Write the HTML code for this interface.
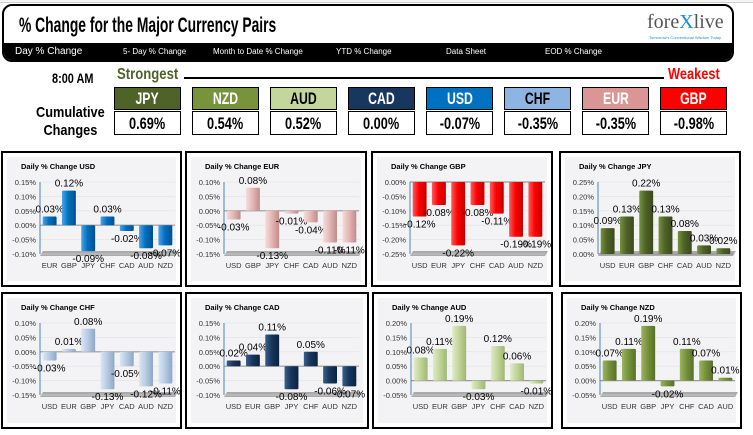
<!DOCTYPE html>
<html><head><meta charset="utf-8">
<style>
*{margin:0;padding:0;box-sizing:border-box}
body{width:753px;height:435px;background:#fff;position:relative;overflow:hidden;font-family:"Liberation Sans",sans-serif}
.abs{position:absolute}
.narrow{font-family:"Liberation Sans Narrow","Liberation Sans",sans-serif;font-weight:bold}
.sq{display:inline-block;transform-origin:center}
.hdr{position:absolute;top:87px;width:67px;height:23px;border:1px solid #000;color:#fff;font-size:17px;text-align:center;line-height:22px}
.hdr .sq{transform:scaleX(0.72)}
.val{position:absolute;top:111px;width:67px;height:24px;border:1px solid #000;background:#fff;color:#000;font-size:17px;text-align:center;line-height:23px}
.val .sq{transform:scaleX(0.75)}
.nav{position:absolute;top:47px;color:#fff;font-size:8px}
.panel{position:absolute;border:2px solid #000;background:#fff}
</style></head><body>
<div class="abs" style="left:0;top:0;width:753px;height:3px;border-bottom:1px solid #d0d0d0;background:#f4f4f4"></div>
<div class="abs" style="left:2px;top:4px;width:732px;height:58px;border:2px solid #000;border-radius:10px;overflow:hidden;background:#fff">
  <div class="abs narrow" style="left:15px;top:8px;font-size:21px;transform:scaleX(0.66);transform-origin:left top;white-space:nowrap">% Change for the Major Currency Pairs</div>
  <div class="abs" style="left:643px;top:5px;font-family:'Liberation Serif',serif;font-size:20px;color:#555">fore<span style="color:#1a8fd0">X</span>live</div>
  <div class="abs" style="left:645px;top:29px;font-size:4px;color:#1a8fd0">Tomorrow's Conventional Wisdom Today</div>
  <div class="abs" style="left:0;top:37px;width:732px;height:21px;background:#000"></div>
</div>
<div class="nav" style="left:15px;top:46px;font-size:10px">Day % Change</div>
<div class="nav" style="left:123px">5- Day % Change</div>
<div class="nav" style="left:213px">Month to Date % Change</div>
<div class="nav" style="left:336px">YTD % Change</div>
<div class="nav" style="left:446px">Data Sheet</div>
<div class="nav" style="left:545px">EOD % Change</div>

<div class="abs narrow" style="left:52px;top:70px;font-size:14px;transform:scaleX(0.78);transform-origin:left top;white-space:nowrap">8:00 AM</div>
<div class="abs narrow" style="left:117px;top:66px;font-size:16px;color:#4f6228;transform:scaleX(0.82);transform-origin:left top">Strongest</div>
<div class="abs" style="left:184px;top:77px;width:480px;height:2px;background:#000"></div>
<div class="abs narrow" style="left:668px;top:66px;font-size:16px;color:#f00;transform:scaleX(0.8);transform-origin:left top">Weakest</div>
<div class="abs narrow" style="left:36px;top:104px;font-size:15px;text-align:center;line-height:18px;transform:scaleX(0.85);transform-origin:left top">Cumulative<br>Changes</div>

<div class="hdr narrow" style="left:114px;background:#4f6228"><span class="sq">JPY</span></div>
<div class="hdr narrow" style="left:192px;background:#77933c"><span class="sq">NZD</span></div>
<div class="hdr narrow" style="left:270px;background:#c3d69b;color:#000"><span class="sq">AUD</span></div>
<div class="hdr narrow" style="left:348px;background:#17375e"><span class="sq">CAD</span></div>
<div class="hdr narrow" style="left:426px;background:#0070c0"><span class="sq">USD</span></div>
<div class="hdr narrow" style="left:504px;background:#8db4e2;color:#000"><span class="sq">CHF</span></div>
<div class="hdr narrow" style="left:582px;background:#da9694"><span class="sq">EUR</span></div>
<div class="hdr narrow" style="left:660px;background:#ff0000"><span class="sq">GBP</span></div>
<div class="val narrow" style="left:114px"><span class="sq">0.69%</span></div>
<div class="val narrow" style="left:192px"><span class="sq">0.54%</span></div>
<div class="val narrow" style="left:270px"><span class="sq">0.52%</span></div>
<div class="val narrow" style="left:348px"><span class="sq">0.00%</span></div>
<div class="val narrow" style="left:426px"><span class="sq">-0.07%</span></div>
<div class="val narrow" style="left:504px"><span class="sq">-0.35%</span></div>
<div class="val narrow" style="left:582px"><span class="sq">-0.35%</span></div>
<div class="val narrow" style="left:660px"><span class="sq">-0.98%</span></div>

<div id="charts"></div>
<script>
const usdCats=["EUR","GBP","JPY","CHF","CAD","AUD","NZD"];
const usdVals=[0.03,0.12,-0.09,0.03,-0.02,-0.08,-0.07];
const usdTicks=[0.15,0.10,0.05,0.00,-0.05,-0.10];
const eurCats=["USD","GBP","JPY","CHF","CAD","AUD","NZD"];
const eurVals=[-0.03,0.08,-0.13,-0.01,-0.04,-0.11,-0.11];
const eurTicks=[0.10,0.05,0.00,-0.05,-0.10,-0.15];
const gbpCats=["USD","EUR","JPY","CHF","CAD","AUD","NZD"];
const gbpVals=[-0.12,-0.08,-0.22,-0.08,-0.11,-0.19,-0.19];
const gbpTicks=[0.00,-0.05,-0.10,-0.15,-0.20,-0.25];
const jpyCats=["USD","EUR","GBP","CHF","CAD","AUD","NZD"];
const jpyVals=[0.09,0.13,0.22,0.13,0.08,0.03,0.02];
const jpyTicks=[0.25,0.20,0.15,0.10,0.05,0.00];
const chfCats=["USD","EUR","GBP","JPY","CAD","AUD","NZD"];
const chfVals=[-0.03,0.01,0.08,-0.13,-0.05,-0.12,-0.11];
const chfTicks=[0.10,0.05,0.00,-0.05,-0.10,-0.15];
const cadCats=["USD","EUR","GBP","JPY","CHF","AUD","NZD"];
const cadVals=[0.02,0.04,0.11,-0.08,0.05,-0.06,-0.07];
const cadTicks=[0.15,0.10,0.05,0.00,-0.05,-0.10];
const audCats=["USD","EUR","GBP","JPY","CHF","CAD","NZD"];
const audVals=[0.08,0.11,0.19,-0.03,0.12,0.06,-0.01];
const audTicks=[0.20,0.15,0.10,0.05,0.00,-0.05];
const nzdCats=["USD","EUR","GBP","JPY","CHF","CAD","AUD"];
const nzdVals=[0.07,0.11,0.19,-0.02,0.11,0.07,0.01];
const nzdTicks=[0.20,0.15,0.10,0.05,0.00,-0.05];

const NS="http://www.w3.org/2000/svg";
function mk(tag,attrs){const e=document.createElementNS(NS,tag);for(const k in attrs)e.setAttribute(k,attrs[k]);return e;}
function drawChart(cfg){
  const p=document.createElement('div');
  p.className='panel';
  
  
  p.style.left=cfg.x+'px';p.style.top=cfg.y+'px';p.style.width=cfg.w+'px';p.style.height=cfg.h+'px';
  const svg=mk('svg',{width:cfg.w-4,height:cfg.h-4});
  
  
  svg.appendChild(mk('rect',{x:4,y:4,width:cfg.w-12,height:cfg.h-12,fill:'#f3f3f5'}));
  const t=mk('text',{x:18,y:16,'font-size':'7.5','font-weight':'bold','font-family':'Liberation Sans, sans-serif'});
  t.textContent='Daily % Change '+cfg.name;
  
  
  svg.appendChild(t);
  const top=29,bot=101,x0=37,x1=172;
  const maxT=cfg.ticks[0],minT=cfg.ticks[cfg.ticks.length-1];
  const ys=v=>top+(maxT-v)/(maxT-minT)*(bot-top);
  const step=(x1-x0)/cfg.cats.length;
  const xs=i=>x0+step*i+step/2;
  svg.appendChild(mk('polygon',{points:`${x0},${bot+2} ${x1},${bot+2} ${x1+3},${bot-3} ${x0+3},${bot-3}`,fill:'#aaa'}));
  cfg.ticks.forEach(v=>{
    const y=ys(v);
    svg.appendChild(mk('line',{x1:x0,x2:x1,y1:y,y2:y,stroke:v===0?'#999':'#e2e2e2','stroke-width':v===0?1.2:0.6}));
    const tl=mk('text',{x:x0-4,y:y+3,'font-size':'7.5','text-anchor':'end','font-family':'Liberation Sans, sans-serif',fill:'#333'});
    tl.textContent=v.toFixed(2)+'%';
    
    
    svg.appendChild(tl);
  });
  svg.appendChild(mk('line',{x1:x0,x2:x0,y1:top,y2:bot,stroke:'#4f81bd','stroke-width':1}));
  const y0=ys(0);
  const gid='g'+cfg.id;
  const defs=mk('defs',{});
  const lg=mk('linearGradient',{id:gid,x1:0,x2:1,y1:0,y2:0});
  lg.appendChild(mk('stop',{offset:'0','stop-color':cfg.light}));
  lg.appendChild(mk('stop',{offset:'0.45','stop-color':cfg.color}));
  lg.appendChild(mk('stop',{offset:'1','stop-color':cfg.dark}));
  defs.appendChild(lg);svg.appendChild(defs);
  cfg.vals.forEach((v,i)=>{
    const cx=xs(i),bw=step*0.72;
    const yv=ys(v);
    const b=mk('rect',{x:cx-bw/2,y:Math.min(yv,y0),width:bw,height:Math.max(1.5,Math.abs(yv-y0)),fill:`url(#${gid})`,rx:1});
    
    
    svg.appendChild(b);
    const lb=mk('text',{x:cx,y:v>=0?yv-4:yv+11,'font-size':'10','text-anchor':'middle','font-family':'Liberation Sans, sans-serif'});
    lb.textContent=v.toFixed(2)+'%';
    
    
    svg.appendChild(lb);
    const cl=mk('text',{x:cx,y:bot+14,'font-size':'7.5','text-anchor':'middle','font-family':'Liberation Sans, sans-serif',fill:'#333'});
    cl.textContent=cfg.cats[i];
    
    
    svg.appendChild(cl);
  });
  p.appendChild(svg);
  document.getElementById('charts').appendChild(p);
}
drawChart({id:'usd',name:'USD',x:1,y:151,w:181,h:136,cats:usdCats,vals:usdVals,ticks:usdTicks,color:'#0070c0',light:'#4aa3e8',dark:'#00508a'});
drawChart({id:'eur',name:'EUR',x:185,y:151,w:182,h:136,cats:eurCats,vals:eurVals,ticks:eurTicks,color:'#e6b8b7',light:'#f5dcdb',dark:'#c08c8a'});
drawChart({id:'gbp',name:'GBP',x:371,y:151,w:182,h:136,cats:gbpCats,vals:gbpVals,ticks:gbpTicks,color:'#ff0000',light:'#ff5a5a',dark:'#c00000'});
drawChart({id:'jpy',name:'JPY',x:559,y:151,w:182,h:136,cats:jpyCats,vals:jpyVals,ticks:jpyTicks,color:'#4f6228',light:'#76923c',dark:'#3a4a1c'});
drawChart({id:'chf',name:'CHF',x:1,y:292,w:181,h:137,cats:chfCats,vals:chfVals,ticks:chfTicks,color:'#b8cce4',light:'#dbe7f3',dark:'#8ea7c6'});
drawChart({id:'cad',name:'CAD',x:185,y:292,w:184,h:137,cats:cadCats,vals:cadVals,ticks:cadTicks,color:'#17375e',light:'#3b5f8a',dark:'#0c2340'});
drawChart({id:'aud',name:'AUD',x:372,y:292,w:181,h:137,cats:audCats,vals:audVals,ticks:audTicks,color:'#c3d69b',light:'#e0ebc6',dark:'#9fb775'});
drawChart({id:'nzd',name:'NZD',x:561,y:292,w:181,h:137,cats:nzdCats,vals:nzdVals,ticks:nzdTicks,color:'#77933c',light:'#9bb55f',dark:'#56702a'});
</script>
</body></html>
